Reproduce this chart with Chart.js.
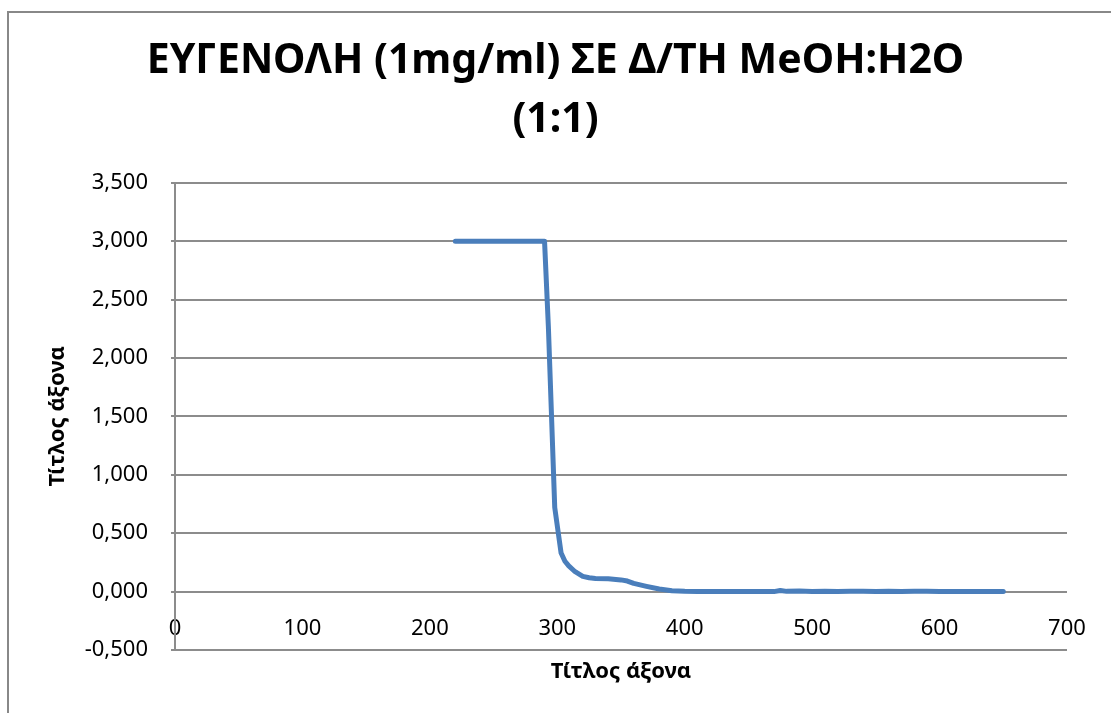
<!DOCTYPE html>
<html>
<head>
<meta charset="utf-8">
<script src="https://cdn.jsdelivr.net/npm/chart.js@4/dist/chart.umd.min.js"></script>
<style>
  html, body { margin: 0; padding: 0; background: #fff; overflow: hidden; }
  #wrap { width: 1111px; height: 713px; position: relative; }
</style>
</head>
<body>
<div id="wrap"><canvas id="chart" width="1111" height="713"></canvas></div>
<script>
const titleLines = ["ΕΥΓΕΝΟΛΗ (1mg/ml) ΣΕ Δ/ΤΗ MeOH:H2O", "(1:1)"];
const xAxisTitle = "Τίτλος άξονα";
const yAxisTitle = "Τίτλος άξονα";

// wavelength (nm)
const wavelength = [
  220, 230, 240, 250, 260, 270, 280, 290, 293, 298,
  303, 306, 309, 314, 320, 325, 330, 340, 350, 355,
  360, 370, 380, 390, 400, 410, 420, 430, 440, 450,
  460, 470, 475, 480, 490, 500, 510, 520, 530, 540,
  550, 560, 570, 580, 590, 600, 610, 620, 630, 640, 650
];
// absorbance
const absorbance = [
  3.000, 3.000, 3.000, 3.000, 3.000, 3.000, 3.000, 3.000, 2.270, 0.720,
  0.330, 0.260, 0.220, 0.170, 0.130, 0.118, 0.113, 0.110, 0.100, 0.090,
  0.070, 0.045, 0.022, 0.008, 0.002, 0.000, 0.000, 0.000, 0.000, 0.000,
  0.000, 0.000, 0.010, 0.002, 0.004, 0.001, 0.003, 0.000, 0.003, 0.002,
  0.000, 0.003, 0.001, 0.003, 0.002, 0.000, 0.000, 0.000, 0.000, 0.000, 0.000
];

const xMin = 0, xMax = 700, xStep = 100;
const yMin = -0.5, yMax = 3.5, yStep = 0.5;

const points = wavelength.map((x, i) => ({ x, y: absorbance[i] }));

const gridGray = "#8c8c8c";
const FONT = "'Noto Sans', 'DejaVu Sans', sans-serif";

// outer chart frame, like the spreadsheet chart border
const framePlugin = {
  id: "frame",
  beforeDraw(chart) {
    const ctx = chart.ctx;
    ctx.save();
    ctx.strokeStyle = "#888";
    ctx.lineWidth = 2;
    ctx.strokeRect(8, 12, chart.width + 20, chart.height + 20);
    ctx.restore();
  }
};

new Chart(document.getElementById("chart"), {
  type: "line",
  data: {
    datasets: [{
      data: points,
      borderColor: "#4A7EBB",
      backgroundColor: "#4A7EBB",
      borderWidth: 5,
      pointRadius: 0,
      tension: 0,
      fill: false,
      borderCapStyle: "round",
      borderJoinStyle: "round"
    }]
  },
  options: {
    responsive: false,
    animation: false,
    layout: { padding: { left: 44, right: 44, top: 0, bottom: 63 } },
    plugins: {
      legend: { display: false },
      tooltip: { enabled: false },
      title: {
        display: true,
        text: titleLines,
        color: "#000",
        font: { family: FONT, size: 41, weight: "bold", lineHeight: 1.46 },
        padding: { top: 31, bottom: 32 }
      }
    },
    scales: {
      x: {
        type: "linear",
        position: { y: 0 },
        min: xMin,
        max: xMax,
        grid: { display: false, drawTicks: false },
        border: { display: false },
        ticks: {
          stepSize: xStep,
          padding: 24,
          color: "#000",
          font: { family: FONT, size: 22 }
        },
        title: {
          display: true,
          text: xAxisTitle,
          color: "#000",
          font: { family: FONT, size: 22, weight: "bold" },
          padding: { top: 0, bottom: -30 }
        },
        afterFit(scale) { scale.height = 63; }
      },
      y: {
        min: yMin,
        max: yMax,
        grid: { color: gridGray, lineWidth: 2, tickLength: 4, drawTicks: true, tickColor: gridGray },
        border: { display: true, color: gridGray, width: 2 },
        ticks: {
          stepSize: yStep,
          padding: 23,
          color: "#000",
          font: { family: FONT, size: 22 },
          callback: v => v.toFixed(3).replace(".", ",")
        },
        title: {
          display: true,
          text: yAxisTitle,
          color: "#000",
          font: { family: FONT, size: 22, weight: "bold" },
          padding: { top: 1, bottom: 0 }
        },
        afterFit(scale) { scale.width = 131; }
      }
    }
  },
  plugins: [framePlugin]
});
</script>
</body>
</html>
